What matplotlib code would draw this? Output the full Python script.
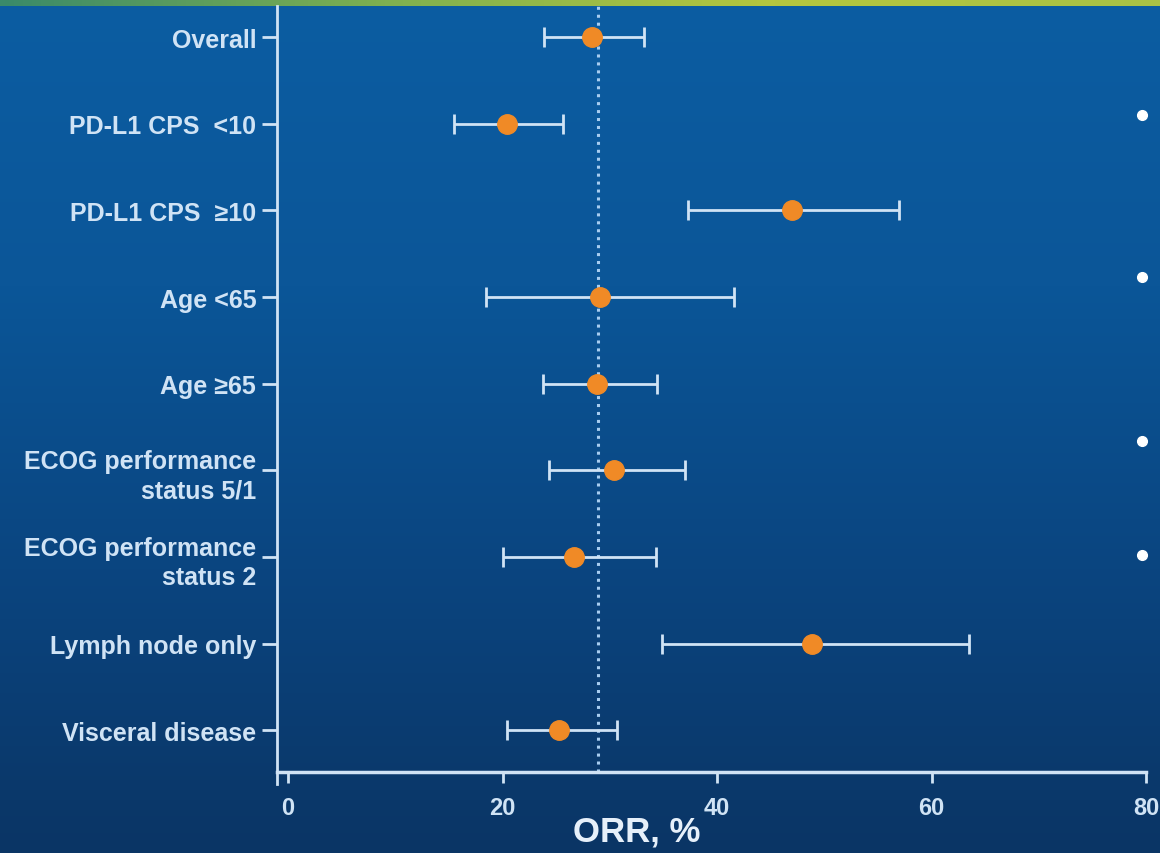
import matplotlib
matplotlib.use("Agg")
import matplotlib.pyplot as plt
from matplotlib.colors import LinearSegmentedColormap
import numpy as np

# forest plot of ORR by subgroup
labels = ["Overall", "PD-L1 CPS  <10", "PD-L1 CPS  \u226510", "Age <65", "Age \u226565",
          "ECOG performance\nstatus 5/1", "ECOG performance\nstatus 2",
          "Lymph node only", "Visceral disease"]
orr = [28.3, 20.4, 47.0, 29.1, 28.8, 30.4, 26.7, 48.9, 25.3]
ci_low = [23.9, 15.5, 37.3, 18.5, 23.8, 24.3, 20.0, 34.9, 20.4]
ci_high = [33.2, 25.6, 57.0, 41.6, 34.4, 37.0, 34.3, 63.5, 30.7]
ref_orr = 28.9
xticks = [0, 20, 40, 60, 80]
# footnote dots on the right edge (row units)
dot_rows = [0.9, 2.77, 4.66, 5.97]

plt.rcParams['font.family'] = ['Liberation Sans', 'DejaVu Sans']
txt = '#e6f0fa'
line_c = '#d0e3f5'

fig = plt.figure(figsize=(11.6, 8.54), dpi=100)

# background gradient
bg = fig.add_axes([0, 0, 1, 1])
bg.set_axis_off()
grad = np.linspace(0, 1, 256).reshape(-1, 1)
cm = LinearSegmentedColormap.from_list('bg', ['#0a3565', '#0a4580', '#0b5698', '#0c5da2'])
bg.imshow(grad, aspect='auto', cmap=cm, extent=[0, 1, 0, 1], origin='lower')
# top stripe
stripe = np.linspace(0, 1, 256).reshape(1, -1)
cm2 = LinearSegmentedColormap.from_list('st', ['#3a8a6a', '#7fb050', '#b5c63e', '#a9c246'])
bg.imshow(stripe, aspect='auto', cmap=cm2, extent=[0, 1, 0.992, 1.0])
bg.set_xlim(0, 1)
bg.set_ylim(0, 1)

ax = fig.add_axes([277 / 1160, 1 - 773 / 854, (1146 - 277) / 1160, (773 - 7) / 854])
ax.set_facecolor('none')
y = np.arange(len(labels))
err = [np.array(orr) - np.array(ci_low), np.array(ci_high) - np.array(orr)]
ax.axvline(ref_orr, color='#a8cdf0', lw=2.2, ls=(0, (1, 1.6)), zorder=1)
ax.errorbar(orr, y, xerr=err, fmt='none', ecolor=line_c, elinewidth=2,
            capsize=7, capthick=2, zorder=2)
ax.plot(orr, y, 'o', color='#f08a26', markersize=14, zorder=3)
ax.plot([79.6] * len(dot_rows), dot_rows, 'o', color='white', markersize=7,
        clip_on=False, zorder=3)

ax.set_xlim(-1.03, 80)
ax.set_ylim(8.48, -0.36)
ax.set_yticks(y)
ax.set_yticklabels(labels, fontsize=18, fontweight='bold', color=txt,
                   linespacing=1.3)
for t in ax.get_yticklabels():
    t.set_horizontalalignment('right')
    t.set_multialignment('right')
ax.set_xticks(xticks)
ax.set_xticklabels([str(v) for v in xticks], fontsize=17, fontweight='bold', color=txt)
ax.tick_params(axis='y', colors=line_c, width=2, length=11, pad=4)
ax.tick_params(axis='x', colors=line_c, width=2, length=8, pad=9)
for s in ['top', 'right']:
    ax.spines[s].set_visible(False)
ax.spines['left'].set_color(line_c)
ax.spines['left'].set_linewidth(2)
ax.spines['left'].set_bounds(8.62, -0.36)
ax.spines['bottom'].set_color(line_c)
ax.spines['bottom'].set_linewidth(2.5)
ax.spines['bottom'].set_bounds(-1.03, 80)
ax.set_xlabel('ORR, %', fontsize=25, fontweight='bold', color=txt)
ax.xaxis.set_label_coords((637 - 277) / (1146 - 277), -0.055)

fig.savefig('out.png', dpi=100)
